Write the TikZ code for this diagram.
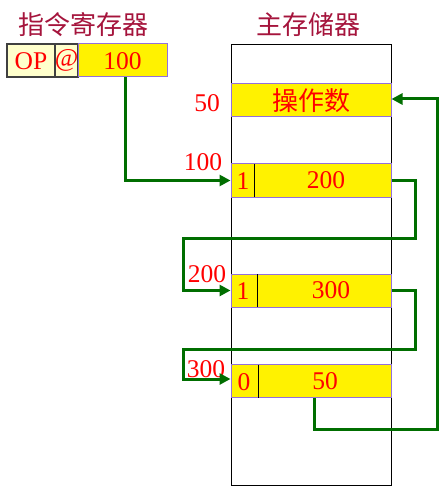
\documentclass[tikz,border=0pt]{standalone}
\usepackage{fontspec}
\setmainfont{Liberation Serif}
\newfontfamily\cjk{Noto Sans CJK SC}
\usetikzlibrary{arrows.meta}
\definecolor{titlered}{RGB}{165,20,60}
\definecolor{ltyel}{RGB}{255,255,204}
\definecolor{purp}{RGB}{147,112,219}
\definecolor{arrgreen}{RGB}{0,110,0}
\tikzset{
  num/.style={text=red,font=\fontsize{25.5}{25.5}\selectfont,inner sep=0pt},
  cjktxt/.style={font=\cjk\fontsize{26}{26}\selectfont,inner sep=0pt},
  cell/.style={draw=purp,line width=1pt,fill=yellow,minimum width=160pt,minimum height=33pt,inner sep=0pt},
  arr/.style={draw=arrgreen,line width=3pt,-{Triangle[length=11pt,width=11pt]}},
}
\begin{document}
\begin{tikzpicture}[x=1pt,y=-1pt]
\useasboundingbox (0,0) rectangle (440,486);
% titles
\node[cjktxt,text=titlered] (t1) at (83,25) {指令寄存器};
\node[cjktxt,text=titlered] (t2) at (308,25) {主存储器};
% instruction register
\node[draw={rgb,255:red,64;green,64;blue,64},line width=1.5pt,fill=ltyel,minimum width=48pt,minimum height=33pt,inner sep=0pt] (op) at (31,60.5) {};
\node[draw={rgb,255:red,64;green,64;blue,64},line width=1.5pt,fill=ltyel,minimum width=23pt,minimum height=33pt,inner sep=0pt] (at) at (66.5,60.5) {};
\node[draw=purp,line width=1pt,fill=yellow,minimum width=89pt,minimum height=33pt,inner sep=0pt] (ir) at (122.5,60.5) {};
\node[num] (optx) at (31,61) {OP};
\node[num] (attx) at (66.5,60) {@};
\node[num] (irtx) at (122.5,61) {100};
% memory column
\node[draw=black,line width=1pt,minimum width=160pt,minimum height=440pt,inner sep=0pt] (mem) at (311,265) {};
% rows
\node[cell] (r50) at (311,100.5) {};
\node[cjktxt,text=red] (r50t) at (311,100.5) {操作数};
\node[cell] (r100) at (311,180.5) {};
\draw[line width=1pt] (254,164) -- (254,197);
\node[num] (r100a) at (243,181) {1};
\node[num] (r100b) at (326,180) {200};
\node[cell] (r200) at (311,290.5) {};
\draw[line width=1pt] (257,274) -- (257,307);
\node[num] (r200a) at (243,291) {1};
\node[num] (r200b) at (331,290) {300};
\node[cell] (r300) at (311,381) {};
\draw[line width=1pt] (258,364.5) -- (258,397.5);
\node[num] (r300a) at (244,382) {0};
\node[num] (r300b) at (325,381) {50};
% address labels
\node[num] (l50) at (207,103) {50};
\node[num] (l100) at (203,162) {100};
\node[num] (l200) at (207,274) {200};
\node[num] (l300) at (206,369) {300};
% connectors
\coordinate (c1) at (415,238);
\coordinate (c2) at (183,238);
\coordinate (c3) at (415,349);
\coordinate (c4) at (183,349);
\coordinate (c5) at (437,429);
\draw[arr] ([xshift=3pt]ir.south) |- (r100.west);
\draw[arr] (r100.east) -| (c1) -- (c2) |- (r200.west);
\draw[arr] (r200.east) -| (c3) -- (c4) |- ([yshift=2pt]r300.west);
\draw[arr] ([xshift=3pt]r300.south) |- (c5) |- ([yshift=1.5pt]r50.east);
\end{tikzpicture}
\end{document}
